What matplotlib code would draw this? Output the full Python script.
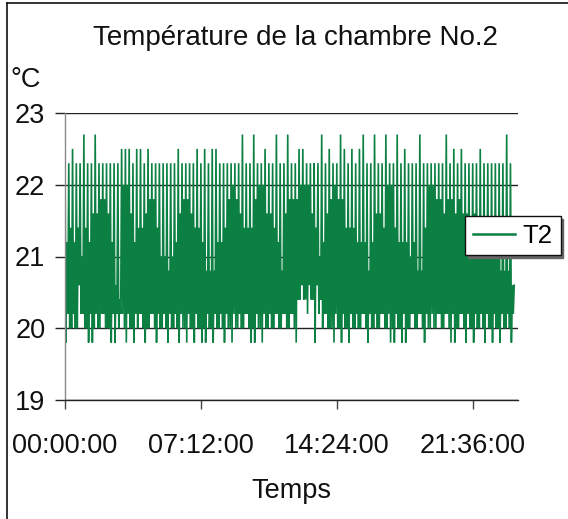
import matplotlib
matplotlib.use("Agg")
import matplotlib.pyplot as plt
from matplotlib.lines import Line2D
import pandas as pd

# ---------------- data ----------------
title = "Température de la chambre No.2"
y_unit = "°C"
x_label = "Temps"
series_name = "T2"
start_time = "2000-01-01 00:00:00"
sample_step = "3min"
day_length = "24h"
x_tick_labels = ["00:00:00", "07:12:00", "14:24:00", "21:36:00"]
y_ticks = [19, 20, 21, 22, 23]

T2 = [
    22.3, 19.8, 21.2, 20.2, 22.3, 20.0, 21.4, 20.0, 22.5, 20.2, 21.2, 20.0,
    22.3, 20.0, 21.4, 20.6, 22.3, 20.2, 21.0, 20.2, 22.7, 20.0, 21.4, 20.0,
    22.3, 19.8, 21.2, 20.2, 22.3, 19.8, 21.6, 20.0, 22.7, 20.2, 21.6, 20.0,
    22.3, 20.0, 21.8, 20.2, 22.3, 20.2, 21.8, 20.0, 22.3, 20.0, 21.6, 20.0,
    22.3, 19.8, 21.2, 20.2, 22.3, 19.8, 20.6, 20.2, 22.3, 20.0, 20.4, 20.2,
    22.5, 20.2, 22.0, 20.0, 22.5, 19.8, 22.0, 20.2, 22.5, 20.0, 21.6, 20.0,
    22.3, 19.8, 21.2, 20.2, 22.5, 20.0, 21.4, 20.2, 22.5, 20.2, 21.4, 20.0,
    22.3, 19.8, 21.6, 20.0, 22.5, 20.0, 21.8, 20.2, 22.3, 20.2, 21.8, 20.0,
    22.3, 19.8, 21.4, 20.2, 22.3, 20.0, 21.0, 20.0, 22.3, 20.2, 21.0, 20.0,
    22.3, 19.8, 20.8, 20.2, 22.3, 20.0, 21.0, 20.0, 22.3, 20.2, 21.2, 20.0,
    22.5, 19.8, 21.6, 20.2, 22.3, 20.0, 21.8, 20.0, 22.3, 19.8, 21.8, 20.2,
    22.3, 20.0, 21.6, 20.0, 22.3, 19.8, 21.4, 20.2, 22.5, 20.0, 21.4, 20.0,
    22.3, 19.8, 21.2, 20.0, 22.5, 19.8, 20.8, 20.2, 22.3, 20.0, 20.8, 20.0,
    22.5, 19.8, 20.8, 20.2, 22.5, 20.0, 21.2, 20.0, 22.3, 20.2, 21.2, 20.0,
    22.3, 19.8, 21.4, 20.2, 22.3, 20.0, 21.8, 20.0, 22.3, 19.8, 22.0, 20.2,
    22.3, 20.0, 21.8, 20.0, 22.3, 20.2, 21.6, 20.0, 22.7, 20.0, 21.4, 20.2,
    22.3, 20.2, 21.4, 20.0, 22.3, 19.8, 21.4, 20.0, 22.7, 19.8, 21.8, 20.2,
    22.3, 20.0, 22.0, 20.0, 22.3, 19.8, 22.0, 20.2, 22.5, 20.0, 21.6, 20.0,
    22.3, 20.2, 21.6, 20.0, 22.3, 20.0, 21.4, 20.2, 22.7, 20.2, 21.2, 20.0,
    22.3, 20.0, 20.8, 20.2, 22.3, 20.2, 21.6, 20.0, 22.7, 20.0, 21.8, 20.2,
    22.3, 20.2, 21.8, 20.0, 22.3, 19.8, 21.8, 20.4, 22.5, 20.4, 22.0, 20.6,
    22.5, 20.4, 22.0, 20.4, 22.3, 20.2, 22.0, 20.6, 22.3, 20.4, 21.6, 20.4,
    22.3, 19.8, 21.4, 20.6, 22.3, 20.2, 21.0, 20.4, 22.7, 20.0, 21.2, 20.2,
    22.3, 20.2, 21.6, 20.0, 22.5, 20.0, 21.8, 20.0, 22.3, 19.8, 22.0, 20.2,
    22.3, 20.0, 21.8, 20.0, 22.7, 19.8, 21.8, 20.2, 22.5, 20.0, 21.4, 20.0,
    22.3, 19.8, 21.4, 20.2, 22.5, 20.0, 21.4, 20.0, 22.3, 20.2, 21.2, 20.0,
    22.5, 20.0, 21.2, 20.2, 22.7, 20.2, 21.2, 20.0, 22.3, 19.8, 20.8, 20.2,
    22.3, 20.0, 21.2, 20.0, 22.7, 20.2, 21.6, 20.0, 22.3, 20.0, 21.6, 20.2,
    22.3, 20.2, 21.4, 20.0, 22.7, 20.0, 22.0, 20.2, 22.3, 19.8, 22.0, 20.0,
    22.3, 19.8, 21.4, 20.2, 22.7, 20.0, 21.2, 20.0, 22.3, 19.8, 21.2, 20.2,
    22.5, 19.8, 21.2, 20.0, 22.3, 20.0, 21.0, 20.2, 22.3, 20.2, 21.2, 20.0,
    22.3, 20.0, 20.8, 20.2, 22.7, 20.2, 20.8, 20.0, 22.3, 19.8, 21.4, 20.2,
    22.3, 20.0, 22.0, 20.0, 22.3, 20.2, 22.0, 20.0, 22.3, 20.0, 21.8, 20.2,
    22.3, 20.2, 21.8, 20.0, 22.3, 20.0, 21.6, 20.2, 22.7, 20.2, 21.8, 20.0,
    22.3, 19.8, 21.8, 20.2, 22.5, 19.8, 21.6, 20.0, 22.3, 20.0, 21.8, 20.2,
    22.5, 20.2, 21.6, 20.0, 22.3, 19.8, 21.6, 20.2, 22.3, 20.0, 21.4, 20.0,
    22.3, 19.8, 21.6, 20.2, 22.3, 20.0, 21.4, 20.0, 22.5, 20.2, 21.2, 20.0,
    22.3, 19.8, 21.2, 20.2, 22.3, 20.0, 21.0, 20.0, 22.3, 19.8, 21.2, 20.2,
    22.3, 20.0, 21.0, 20.0, 22.3, 19.8, 20.8, 20.2, 22.3, 20.0, 20.8, 20.0,
    22.7, 20.2, 20.8, 20.0, 22.3, 19.8, 20.6, 20.2, 20.6,
]

# ---------------- figure ----------------
plt.rcParams["font.family"] = ["Liberation Sans", "DejaVu Sans"]
W, H = 568, 519
fig = plt.figure(figsize=(W / 100, H / 100), dpi=100)
fig.patch.set_facecolor("white")

def fx(px):
    return px / W

def fy(py):
    return 1 - py / H

ax = fig.add_axes([fx(65), fy(400), fx(518) - fx(65), fy(113) - fy(400)])

t0 = pd.Timestamp(start_time)
times = pd.date_range(start=t0, periods=len(T2), freq=sample_step)
green = "#0b8042"
line, = ax.plot(times, T2, color=green, linewidth=1.2, label=series_name,
                solid_joinstyle="miter")

ax.set_xlim(t0, t0 + pd.Timedelta(day_length))
ax.set_ylim(y_ticks[0], y_ticks[-1])
ax.set_yticks(y_ticks)
ax.set_yticklabels([str(v) for v in y_ticks])
tick_pos = [t0 + pd.to_timedelta(s) for s in x_tick_labels]
ax.set_xticks(tick_pos)
ax.set_xticklabels(x_tick_labels)

ax.yaxis.grid(True, color="#222222", linewidth=1.0)
ax.xaxis.grid(False)
for s in ("top", "right"):
    ax.spines[s].set_visible(False)
ax.spines["left"].set_color("#8a8a8a")
ax.spines["left"].set_linewidth(1.0)
ax.spines["bottom"].set_color("#222222")
ax.spines["bottom"].set_linewidth(1.0)

ax.tick_params(axis="y", direction="out", length=7.2, width=1.0, color="#222222",
               labelsize=19.5, pad=7, labelcolor="#111111")
ax.tick_params(axis="x", direction="out", length=6.5, width=1.0, color="#444444",
               labelsize=19.5, pad=17, labelcolor="#111111")

# texts
fig.text(fx(295), fy(45), title, ha="center", va="baseline", fontsize=20, color="#111111")
fig.text(fx(10), fy(87), y_unit, ha="left", va="baseline", fontsize=19.5, color="#111111")
fig.text(fx(291), fy(498), x_label, ha="center", va="baseline", fontsize=19.5, color="#111111")

# legend
leg = fig.legend(handles=[line], labels=[series_name], loc="upper left",
                 bbox_to_anchor=(fx(465), fy(216)), bbox_transform=fig.transFigure,
                 frameon=True, fancybox=False, shadow={"color": "#666666", "alpha": 1.0},
                 edgecolor="#111111", framealpha=1.0, fontsize=18.5,
                 handlelength=1.65, handletextpad=0.3, borderpad=0.3,
                 borderaxespad=0.0)
leg.get_frame().set_linewidth(1.0)
for h in leg.legend_handles:
    h.set_linewidth(1.8)

# outer border (left and top)
fig.add_artist(Line2D([fx(7), fx(7)], [0, fy(3)], transform=fig.transFigure,
                      color="#111111", linewidth=1.2))
fig.add_artist(Line2D([fx(7), 1], [fy(3), fy(3)], transform=fig.transFigure,
                      color="#111111", linewidth=1.2))

fig.savefig("out.png", dpi=100, facecolor="white")
